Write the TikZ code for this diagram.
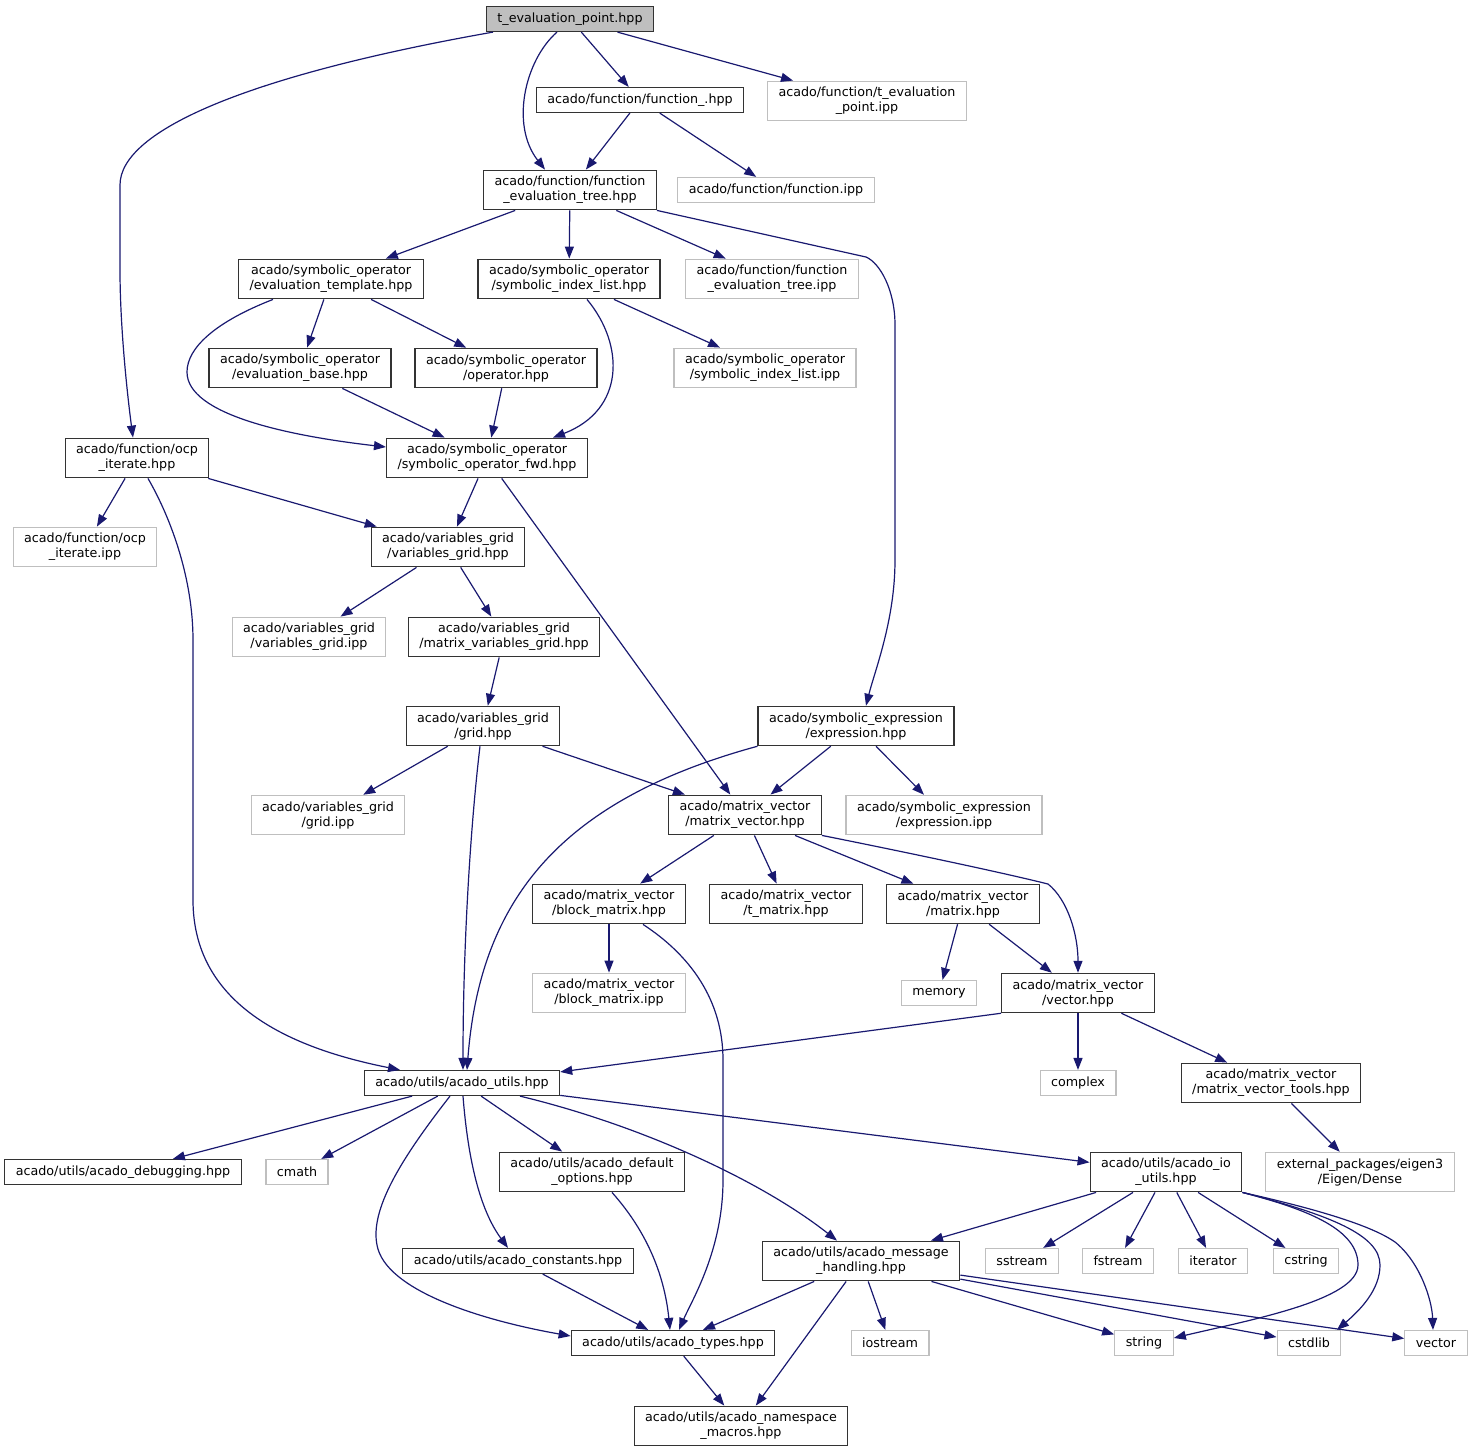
\documentclass[tikz,border=0pt]{standalone}
\usepackage{fontspec}
\setmainfont{DejaVu Sans}
\usetikzlibrary{arrows.meta}
\definecolor{edgeblue}{HTML}{191970}
\definecolor{sysgray}{HTML}{BFBFBF}
\begin{document}
\begin{tikzpicture}[x=1pt, y=-1pt,
    file/.style={draw=black!80, line width=1.2pt, fill=white, align=center,
      font=\fontsize{12.7pt}{15pt}\selectfont, inner xsep=11pt, inner ysep=6pt,
      minimum height=25pt},
    sys/.style={file, draw=sysgray},
    top/.style={file, fill=sysgray},
    dep/.style={draw=edgeblue, line width=1.2pt, -{Triangle[length=12pt,width=9pt]}}]

    \useasboundingbox (0,0) rectangle (1473,1452);

    % files
    \node[top] (teval) at (570,19) {t\_evaluation\_point.hpp};
    \node[file] (fun) at (640,100) {acado/function/function\_.hpp};
    \node[sys] (tepipp) at (867,101) {acado/function/t\_evaluation\\\_point.ipp};
    \node[file] (fet) at (570,190) {acado/function/function\\\_evaluation\_tree.hpp};
    \node[sys] (funipp) at (776,190) {acado/function/function.ipp};
    \node[file] (evtpl) at (331,279) {acado/symbolic\_operator\\/evaluation\_template.hpp};
    \node[file] (sil) at (569,279) {acado/symbolic\_operator\\/symbolic\_index\_list.hpp};
    \node[sys] (fetipp) at (772,279) {acado/function/function\\\_evaluation\_tree.ipp};
    \node[file] (evbase) at (300,368) {acado/symbolic\_operator\\/evaluation\_base.hpp};
    \node[file] (oper) at (506,368) {acado/symbolic\_operator\\/operator.hpp};
    \node[sys] (silipp) at (765,368) {acado/symbolic\_operator\\/symbolic\_index\_list.ipp};
    \node[file] (ocp) at (137,458) {acado/function/ocp\\\_iterate.hpp};
    \node[file] (sofwd) at (487,458) {acado/symbolic\_operator\\/symbolic\_operator\_fwd.hpp};
    \node[sys] (ocpipp) at (85,547) {acado/function/ocp\\\_iterate.ipp};
    \node[file] (vg) at (448,547) {acado/variables\_grid\\/variables\_grid.hpp};
    \node[sys] (vgipp) at (309,637) {acado/variables\_grid\\/variables\_grid.ipp};
    \node[file] (mvg) at (504,637) {acado/variables\_grid\\/matrix\_variables\_grid.hpp};
    \node[file] (grid) at (483,726) {acado/variables\_grid\\/grid.hpp};
    \node[file] (expr) at (856,726) {acado/symbolic\_expression\\/expression.hpp};
    \node[sys] (gridipp) at (328,815) {acado/variables\_grid\\/grid.ipp};
    \node[file] (mv) at (745,815) {acado/matrix\_vector\\/matrix\_vector.hpp};
    \node[sys] (expripp) at (944,815) {acado/symbolic\_expression\\/expression.ipp};
    \node[file] (block) at (609,904) {acado/matrix\_vector\\/block\_matrix.hpp};
    \node[file] (tmat) at (786,904) {acado/matrix\_vector\\/t\_matrix.hpp};
    \node[file] (mat) at (963,904) {acado/matrix\_vector\\/matrix.hpp};
    \node[sys] (blockipp) at (609,993) {acado/matrix\_vector\\/block\_matrix.ipp};
    \node[sys] (memory) at (939,993) {memory};
    \node[file] (vec) at (1078,993) {acado/matrix\_vector\\/vector.hpp};
    \node[file] (utils) at (462,1083) {acado/utils/acado\_utils.hpp};
    \node[sys] (complex) at (1078,1083) {complex};
    \node[file] (mvt) at (1271,1083) {acado/matrix\_vector\\/matrix\_vector\_tools.hpp};
    \node[file] (dbg) at (123,1172) {acado/utils/acado\_debugging.hpp};
    \node[sys] (cmath) at (297,1172) {cmath};
    \node[file] (defopt) at (592,1172) {acado/utils/acado\_default\\\_options.hpp};
    \node[file] (io) at (1166,1172) {acado/utils/acado\_io\\\_utils.hpp};
    \node[sys] (dense) at (1360,1172) {external\_packages/eigen3\\/Eigen/Dense};
    \node[file] (consts) at (518,1261) {acado/utils/acado\_constants.hpp};
    \node[file] (msg) at (861,1261) {acado/utils/acado\_message\\\_handling.hpp};
    \node[sys] (sstream) at (1022,1261) {sstream};
    \node[sys] (fstream) at (1118,1261) {fstream};
    \node[sys] (iterator) at (1213,1261) {iterator};
    \node[sys] (cstring) at (1306,1261) {cstring};
    \node[file] (types) at (673,1343) {acado/utils/acado\_types.hpp};
    \node[sys] (iostream) at (890,1343) {iostream};
    \node[sys] (string) at (1144,1343) {string};
    \node[sys] (cstdlib) at (1309,1343) {cstdlib};
    \node[sys] (stdvec) at (1436,1343) {vector};
    \node[file] (macros) at (741,1426) {acado/utils/acado\_namespace\\\_macros.hpp};

    % includes
    \draw[dep] ([xshift=-77pt]teval.south) .. controls (250,75) and (120,130) .. (120,185)
        -- (120,270) .. controls (120,330) and (128,400) .. ([xshift=-4pt]ocp.north);
    \draw[dep] ([xshift=-13pt]teval.south) .. controls (525,60) and (510,125) .. ([xshift=-25pt]fet.north);
    \draw[dep] (teval) -- (fun);
    \draw[dep] (teval) -- (tepipp);
    \draw[dep] (fun) -- (fet);
    \draw[dep] (fun) -- (funipp);
    \draw[dep] (fet) -- (evtpl);
    \draw[dep] (fet) -- (sil);
    \draw[dep] (fet) -- (fetipp);
    \draw[dep] (fet.south east) -- (866,257) .. controls (880,263) and (895,290) .. (895,325)
        -- (895,560) .. controls (895,620) and (875,670) .. ([xshift=10pt]expr.north);
    \draw[dep] (evtpl) -- (evbase);
    \draw[dep] (evtpl) -- (oper);
    \draw[dep] ([xshift=-58pt]evtpl.south) .. controls (215,322) and (187,348) .. (187,372)
        .. controls (187,415) and (290,436) .. ([yshift=11pt]sofwd.west);
    \draw[dep] ([xshift=18pt]sil.south) .. controls (625,345) and (625,410) .. ([xshift=66pt]sofwd.north);
    \draw[dep] (sil) -- (silipp);
    \draw[dep] (evbase) -- (sofwd);
    \draw[dep] (oper) -- (sofwd);
    \draw[dep] (ocp) -- (ocpipp);
    \draw[dep] (ocp) -- (vg);
    \draw[dep] ([xshift=11pt]ocp.south) .. controls (172,520) and (193,580) .. (193,640)
        -- (193,900) .. controls (193,1010) and (300,1050) .. ([xshift=-62pt]utils.north);
    \draw[dep] (sofwd) -- (vg);
    \draw[dep] (sofwd) -- (mv);
    \draw[dep] (vg) -- (vgipp);
    \draw[dep] (vg) -- (mvg);
    \draw[dep] (mvg) -- (grid);
    \draw[dep] (grid) -- (gridipp);
    \draw[dep] (grid) -- (mv);
    \draw[dep] ([xshift=-3pt]grid.south) .. controls (470,830) and (463,950) .. ([xshift=1pt]utils.north);
    \draw[dep] (expr) -- (mv);
    \draw[dep] (expr) -- (expripp);
    \draw[dep] (expr.south west) .. controls (560,800) and (480,900) .. ([xshift=5pt]utils.north);
    \draw[dep] (mv) -- (block);
    \draw[dep] (mv) -- (tmat);
    \draw[dep] (mv) -- (mat);
    \draw[dep] (mv.south east) .. controls (900,851) and (1000,872) .. (1048,884)
        .. controls (1068,900) and (1078,935) .. (vec.north);
    \draw[dep] (block) -- (blockipp);
    \draw[dep] ([xshift=34pt]block.south) .. controls (690,955) and (723,1000) .. (723,1060)
        -- (723,1180) .. controls (723,1250) and (692,1300) .. ([xshift=6pt]types.north);
    \draw[dep] (mat) -- (memory);
    \draw[dep] (mat) -- (vec);
    \draw[dep] (vec.south west) -- ([yshift=-2pt]utils.north east);
    \draw[dep] (vec) -- (complex);
    \draw[dep] (vec) -- (mvt);
    \draw[dep] (mvt) -- (dense);
    \draw[dep] (utils) -- (dbg);
    \draw[dep] (utils) -- (cmath);
    \draw[dep] (utils) -- (defopt);
    \draw[dep] (utils) -- (io);
    \draw[dep] ([xshift=1pt]utils.south) .. controls (468,1160) and (480,1210) .. ([xshift=-10pt]consts.north);
    \draw[dep] ([xshift=58pt]utils.south) .. controls (640,1125) and (760,1180) .. ([xshift=-24pt]msg.north);
    \draw[dep] ([xshift=-12pt]utils.south) .. controls (400,1160) and (370,1210) .. (377,1245)
        .. controls (385,1290) and (480,1320) .. ([yshift=7pt]types.west);
    \draw[dep] ([xshift=20pt]defopt.south) .. controls (650,1235) and (665,1280) .. ([xshift=-3pt]types.north);
    \draw[dep] (consts) -- (types);
    \draw[dep] (io) -- (msg);
    \draw[dep] (io) -- (sstream);
    \draw[dep] (io) -- (fstream);
    \draw[dep] (io) -- (iterator);
    \draw[dep] (io) -- (cstring);
    \draw[dep] (io.south east) .. controls (1310,1210) and (1358,1230) .. (1358,1265)
        .. controls (1358,1300) and (1250,1320) .. ([yshift=5pt]string.east);
    \draw[dep] (io.south east) .. controls (1330,1215) and (1380,1235) .. (1380,1265)
        .. controls (1380,1290) and (1360,1310) .. ([xshift=28pt]cstdlib.north);
    \draw[dep] (io.south east) .. controls (1330,1212) and (1375,1228) .. (1395,1242)
        .. controls (1420,1262) and (1432,1300) .. ([xshift=-3pt]stdvec.north);
    \draw[dep] (msg) -- (types);
    \draw[dep] (msg) -- (iostream);
    \draw[dep] (msg) -- (string);
    \draw[dep] (msg) -- (cstdlib);
    \draw[dep] (msg) -- (stdvec);
    \draw[dep] (msg) -- (macros);
    \draw[dep] (types) -- (macros);

\end{tikzpicture}
\end{document}
